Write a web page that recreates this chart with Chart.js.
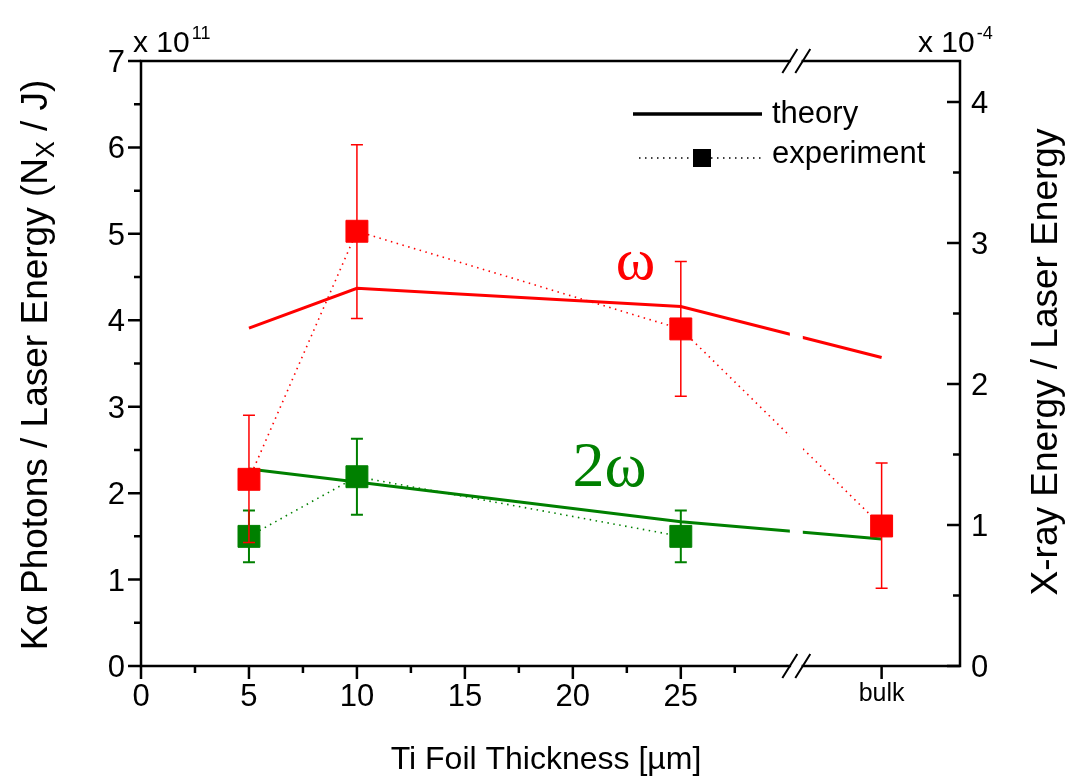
<!DOCTYPE html>
<html>
<head>
<meta charset="utf-8">
<script src="https://cdn.jsdelivr.net/npm/chart.js@4.4.1/dist/chart.umd.min.js"></script>
<style>
  html, body { margin: 0; padding: 0; background: #fff; }
  #wrap { width: 1072px; height: 779px; position: relative; }
</style>
</head>
<body>
<div id="wrap"><canvas id="kalphaChart"></canvas></div>
<script>
// foil thickness in um, the bulk target is placed past the axis break
const thickness = [5, 10, 25, 34.3];
const xMajorTicks = [0, 5, 10, 15, 20, 25, 34.3];
const xTickLabels = ['0', '5', '10', '15', '20', '25', 'bulk'];
const xMinorTicks = [2.5, 7.5, 12.5, 17.5, 22.5, 27.5];
const leftTicks = [0, 1, 2, 3, 4, 5, 6, 7];
const rightTicks = [0, 1, 2, 3, 4];
const axisBreak = [30.05, 30.65];

// K-alpha photons per joule of laser energy (x 10^11), fundamental
const omegaTheory = [3.91, 4.37, 4.16, 3.57];
const omegaExp = [2.16, 5.03, 3.90, 1.62];
const omegaErrLow = [1.43, 4.02, 3.12, 0.90];
const omegaErrHigh = [2.90, 6.03, 4.68, 2.35];

// second harmonic (no bulk measurement)
const twoOmegaTheory = [2.28, 2.13, 1.67, 1.47];
const twoOmegaExp = [1.50, 2.19, 1.50];
const twoOmegaErrLow = [1.20, 1.75, 1.20];
const twoOmegaErrHigh = [1.80, 2.63, 1.80];

const RED = '#ff0000';
const GREEN = '#008000';
const FONT = '"Liberation Sans", Arial, Helvetica, sans-serif';
const SERIF = '"Liberation Serif", "Times New Roman", serif';

const toPoints = (ys) => ys.map((v, i) => ({ x: thickness[i], y: v }));

// error bars are drawn just before their dataset so the markers sit on top
function drawErrorBars(chart, ds) {
  const { ctx, scales: { x, y } } = chart;
  ctx.save();
  ctx.strokeStyle = ds.borderColor;
  ctx.lineWidth = ds.errWidth;
  ds.data.forEach((p, i) => {
    const px = x.getPixelForValue(p.x);
    const top = y.getPixelForValue(ds.errHigh[i]);
    const bot = y.getPixelForValue(ds.errLow[i]);
    ctx.beginPath();
    ctx.moveTo(px, top); ctx.lineTo(px, bot);
    ctx.moveTo(px - 6, top); ctx.lineTo(px + 6, top);
    ctx.moveTo(px - 6, bot); ctx.lineTo(px + 6, bot);
    ctx.stroke();
  });
  ctx.restore();
}

function supText(ctx, base, sup, x, y, size, supSize) {
  ctx.font = size + 'px ' + FONT;
  ctx.textAlign = 'left';
  ctx.textBaseline = 'alphabetic';
  ctx.fillText(base, x, y);
  const w = ctx.measureText(base).width;
  ctx.font = supSize + 'px ' + FONT;
  ctx.fillText(sup, x + w + 2, y - 13);
}

const axisDecor = {
  id: 'axisDecor',
  beforeDatasetDraw(chart, args) {
    const ds = chart.data.datasets[args.index];
    if (ds.errLow) drawErrorBars(chart, ds);
  },
  afterDatasetsDraw(chart) {
    const { ctx, chartArea: a, scales: { x, y, y2 } } = chart;
    const L = a.left, R = a.right, T = a.top, B = a.bottom;
    const g0 = x.getPixelForValue(axisBreak[0]);
    const g1 = x.getPixelForValue(axisBreak[1]);
    ctx.save();

    // blank band for the axis break
    ctx.fillStyle = '#fff';
    ctx.fillRect(g0, T - 2, g1 - g0, B - T + 4);

    // frame
    ctx.strokeStyle = '#000';
    ctx.lineWidth = 2.5;
    ctx.lineCap = 'square';
    ctx.beginPath();
    ctx.moveTo(L, T); ctx.lineTo(L, B);
    ctx.moveTo(R, T); ctx.lineTo(R, B);
    ctx.moveTo(L, T); ctx.lineTo(g0, T);
    ctx.moveTo(g1, T); ctx.lineTo(R, T);
    ctx.moveTo(L, B); ctx.lineTo(g0, B);
    ctx.moveTo(g1, B); ctx.lineTo(R, B);
    ctx.stroke();

    // break marks
    ctx.lineCap = 'butt';
    ctx.lineWidth = 2;
    ctx.beginPath();
    [g0, g1].forEach(gx => {
      [T, B].forEach(gy => {
        ctx.moveTo(gx - 7.5, gy + 12);
        ctx.lineTo(gx + 7.5, gy - 12);
      });
    });
    ctx.stroke();

    // tick marks
    ctx.lineWidth = 2.5;
    ctx.beginPath();
    leftTicks.forEach(v => {
      const py = y.getPixelForValue(v);
      ctx.moveTo(L - 13, py); ctx.lineTo(L, py);
      if (v < 7) {
        const pm = y.getPixelForValue(v + 0.5);
        ctx.moveTo(L - 7, pm); ctx.lineTo(L, pm);
      }
    });
    rightTicks.forEach(v => {
      const py = y2.getPixelForValue(v);
      ctx.moveTo(R - 13, py); ctx.lineTo(R, py);
      const pm = y2.getPixelForValue(v + 0.5);
      if (pm > T) { ctx.moveTo(R - 7, pm); ctx.lineTo(R, pm); }
    });
    xMajorTicks.forEach(v => {
      const px = x.getPixelForValue(v);
      ctx.moveTo(px, B); ctx.lineTo(px, B + 13);
    });
    xMinorTicks.forEach(v => {
      const px = x.getPixelForValue(v);
      ctx.moveTo(px, B); ctx.lineTo(px, B + 7);
    });
    ctx.stroke();

    // tick labels
    ctx.fillStyle = '#000';
    ctx.font = '31px ' + FONT;
    ctx.textBaseline = 'alphabetic';
    ctx.textAlign = 'right';
    leftTicks.forEach(v => ctx.fillText(String(v), L - 16, y.getPixelForValue(v) + 11));
    ctx.textAlign = 'left';
    rightTicks.forEach(v => ctx.fillText(String(v), R + 11, y2.getPixelForValue(v) + 11));
    ctx.textAlign = 'center';
    xMajorTicks.forEach((v, i) => {
      const lbl = xTickLabels[i];
      ctx.font = (lbl === 'bulk' ? '25px ' : '31px ') + FONT;
      ctx.fillText(lbl, x.getPixelForValue(v), lbl === 'bulk' ? 701 : 706);
    });

    // exponents
    supText(ctx, 'x 10', '11', 133, 52, 30, 18);
    supText(ctx, 'x 10', '-4', 918, 52, 30, 18);

    // axis titles
    ctx.font = '32px ' + FONT;
    ctx.textAlign = 'center';
    ctx.fillText('Ti Foil Thickness [\u00b5m]', 546, 769);

    ctx.save();
    ctx.translate(37, 365);
    ctx.rotate(-Math.PI / 2);
    ctx.textBaseline = 'middle';
    ctx.textAlign = 'left';
    const big = '37px ' + FONT, small = '25px ' + FONT;
    const p1 = 'K\u03b1 Photons / Laser Energy (N', p2 = 'X', p3 = ' / J)';
    ctx.font = big; const w1 = ctx.measureText(p1).width, w3 = ctx.measureText(p3).width;
    ctx.font = small; const w2 = ctx.measureText(p2).width;
    let sx = -(w1 + w2 + w3) / 2;
    ctx.font = big; ctx.fillText(p1, sx, 0); sx += w1;
    ctx.font = small; ctx.fillText(p2, sx, 10); sx += w2;
    ctx.font = big; ctx.fillText(p3, sx, 0);
    ctx.restore();

    ctx.save();
    ctx.translate(1047, 362);
    ctx.rotate(-Math.PI / 2);
    ctx.textBaseline = 'middle';
    ctx.textAlign = 'center';
    ctx.font = '37px ' + FONT;
    ctx.fillText('X-ray Energy / Laser Energy', 0, 0);
    ctx.restore();

    // legend
    ctx.lineWidth = 3.5;
    ctx.beginPath(); ctx.moveTo(633, 114); ctx.lineTo(762, 114); ctx.stroke();
    ctx.lineWidth = 1.5;
    ctx.setLineDash([1.5, 4.5]);
    ctx.beginPath(); ctx.moveTo(639, 158); ctx.lineTo(762, 158); ctx.stroke();
    ctx.setLineDash([]);
    ctx.fillRect(702 - 9, 158 - 9, 18, 18);
    ctx.font = '31px ' + FONT;
    ctx.textAlign = 'left';
    ctx.fillText('theory', 772, 123);
    ctx.fillText('experiment', 772, 163);

    // harmonic labels
    ctx.textAlign = 'center';
    ctx.font = '60px ' + SERIF;
    ctx.fillStyle = RED;
    ctx.fillText('\u03c9', x.getPixelForValue(22.9), y.getPixelForValue(4.66) + 16);
    ctx.font = '64px ' + SERIF;
    ctx.fillStyle = GREEN;
    ctx.fillText('2\u03c9', x.getPixelForValue(21.7), y.getPixelForValue(2.33) + 21);

    ctx.restore();
  }
};

const ctx = document.getElementById('kalphaChart').getContext('2d');
new Chart(ctx, {
  type: 'line',
  data: {
    datasets: [
      {
        label: 'omega experiment',
        data: toPoints(omegaExp),
        errLow: omegaErrLow, errHigh: omegaErrHigh, errWidth: 1.5,
        borderColor: RED,
        borderWidth: 1.6,
        borderDash: [1.5, 4.5],
        pointStyle: 'rect',
        pointRadius: 15.5,
        pointBackgroundColor: RED,
        pointBorderColor: RED,
        pointBorderWidth: 1,
        order: 0
      },
      {
        label: 'omega theory',
        data: toPoints(omegaTheory),
        borderColor: RED,
        borderWidth: 3,
        pointRadius: 0,
        order: 1
      },
      {
        label: '2 omega experiment',
        data: toPoints(twoOmegaExp),
        errLow: twoOmegaErrLow, errHigh: twoOmegaErrHigh, errWidth: 2,
        borderColor: GREEN,
        borderWidth: 1.6,
        borderDash: [1.5, 4.5],
        pointStyle: 'rect',
        pointRadius: 15.5,
        pointBackgroundColor: GREEN,
        pointBorderColor: GREEN,
        pointBorderWidth: 1,
        order: 2
      },
      {
        label: '2 omega theory',
        data: toPoints(twoOmegaTheory),
        borderColor: GREEN,
        borderWidth: 3,
        pointRadius: 0,
        order: 3
      }
    ]
  },
  options: {
    responsive: true,
    maintainAspectRatio: false,
    animation: false,
    events: [],
    layout: { padding: { left: 141, right: 112, top: 61, bottom: 113 } },
    plugins: { legend: { display: false }, tooltip: { enabled: false } },
    scales: {
      x: { type: 'linear', min: 0, max: 37.93, display: false },
      y: { min: 0, max: 7, display: false },
      y2: { min: 0, max: 4.29, display: false, position: 'right' }
    }
  },
  plugins: [axisDecor]
});
</script>
</body>
</html>
